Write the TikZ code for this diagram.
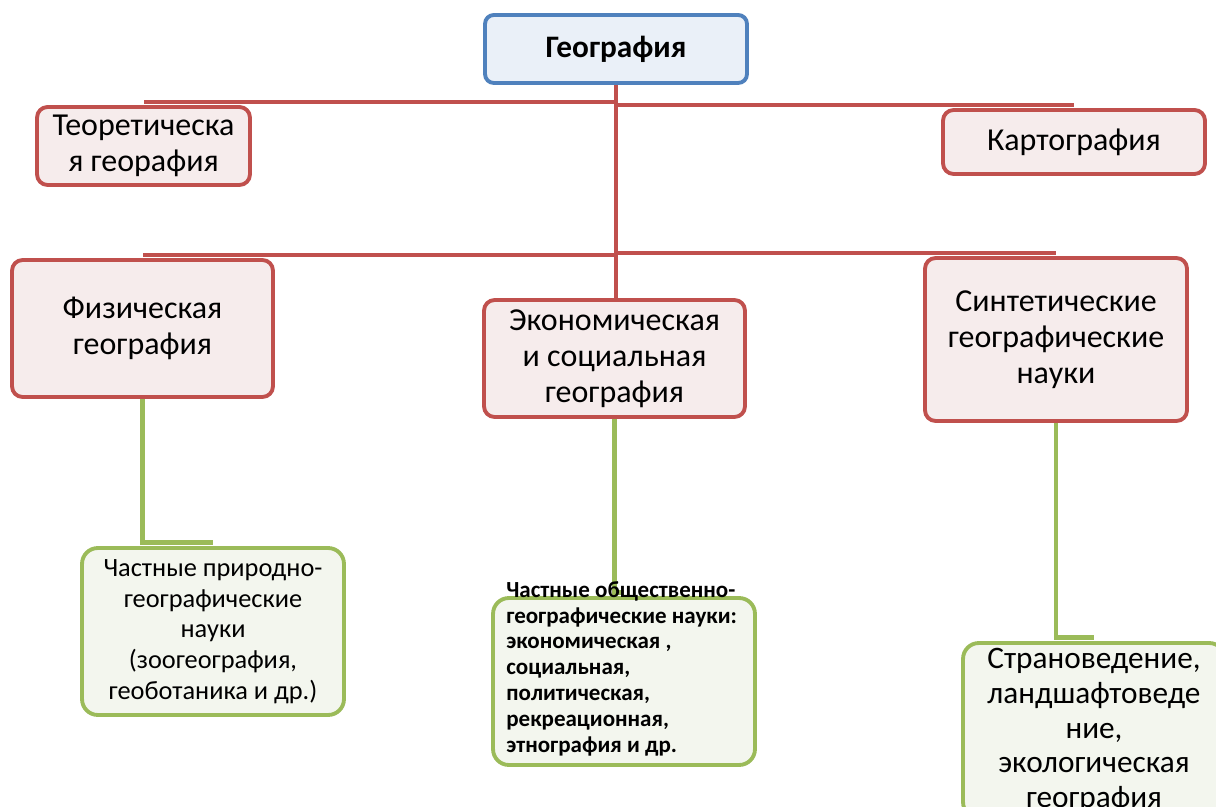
\documentclass[tikz,border=0pt]{standalone}
\usepackage{fontspec}
\setmainfont{Carlito}
\usetikzlibrary{backgrounds}
\definecolor{boxblue}{HTML}{4F81BD}
\definecolor{fillblue}{HTML}{EAF0F8}
\definecolor{boxred}{HTML}{C0504D}
\definecolor{fillred}{HTML}{F6ECEC}
\definecolor{boxgreen}{HTML}{9BBB59}
\definecolor{fillgreen}{HTML}{F3F6EE}
\begin{document}
\begin{tikzpicture}[x=0.02cm, y=-0.02cm,
    topic/.style ={rectangle, rounded corners=5pt, draw=boxblue, fill=fillblue, line width=2.2pt, inner sep=0pt, align=center, font=\fontsize{17.8}{20.4}\selectfont\bfseries},
    branch/.style ={rectangle, rounded corners=6pt, draw=boxred, fill=fillred, line width=2.2pt, inner sep=0pt, align=center, font=\fontsize{18.2}{20.4}\selectfont},
    leaf/.style ={rectangle, rounded corners=9pt, draw=boxgreen, fill=fillgreen, line width=2.2pt, inner sep=0pt, align=center, font=\fontsize{15}{17.5}\selectfont},
    redlink/.style ={draw=boxred, line width=2.3pt},
    greenlink/.style ={draw=boxgreen, line width=2.4pt}]
   \useasboundingbox (0,0) rectangle (1216,807);
   \clip (0,0) rectangle (1216,807);

   \node[topic, minimum width=5.24cm, minimum height=1.36cm] (geo) at (616,49) {География};

   \node[branch, minimum width=4.26cm, minimum height=1.56cm] (teor) at (143.5,146) {Теоретическа\\я георафия};
   \node[branch, minimum width=5.24cm, minimum height=1.28cm] (kart) at (1074,142) {Картография};

   \node[branch, minimum width=5.22cm, minimum height=2.74cm] (fiz) at (142.5,328.5) {Физическая\\география};
   \node[branch, minimum width=5.22cm, minimum height=2.34cm] (econ) at (614.5,358.5) {Экономическая\\и социальная\\география};
   \node[branch, minimum width=5.24cm, minimum height=3.26cm] (sint) at (1056,339.5) {Синтетические\\географические\\науки};

   \node[leaf, minimum width=5.24cm, minimum height=3.34cm] (prir) at (213,631.5) {Частные природно-\\географические\\науки\\(зоогеография,\\геоботаника и др.)};
   \node[leaf, minimum width=5.24cm, minimum height=3.34cm] (obsch) at (624,681.5) {};
   \node[anchor=north west, inner sep=0pt, align=left, font=\fontsize{13.1}{14.7}\selectfont\bfseries] (obschtext) at (506,581)
     {Частные общественно-\\географические науки:\\экономическая ,\\социальная,\\политическая,\\рекреационная,\\этнография и др.};
   \node[leaf, minimum width=5.24cm, minimum height=3.5cm, font=\fontsize{17.8}{19.8}\selectfont] (stran) at (1094,730.5) {Страноведение,\\ландшафтоведе\\ние,\\экологическая\\география};

   \begin{scope}[on background layer]
   \draw[redlink] (geo.south) |- ([yshift=2pt]teor.north);
   \draw[redlink] (geo.south) |- ([yshift=2pt]kart.north);
   \draw[redlink] (geo.south) |- ([yshift=2pt]fiz.north);
   \draw[redlink] (geo.south) |- ([yshift=2pt]sint.north);
   \draw[redlink] (geo.south) -- (geo.south |- econ.north);

   \draw[greenlink] (fiz.south) |- ([yshift=2pt]prir.north);
   \draw[greenlink] (econ.south) |- ([yshift=2pt]obsch.north);
   \draw[greenlink] (sint.south) |- ([yshift=2pt]stran.north);
   \end{scope}
 \end{tikzpicture}
\end{document}
